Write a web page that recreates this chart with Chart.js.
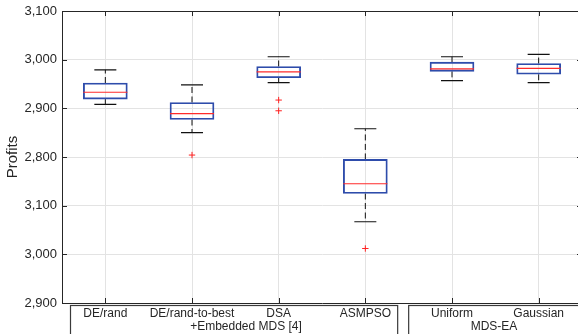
<!DOCTYPE html>
<html><head><meta charset="utf-8">
<script src="https://cdn.jsdelivr.net/npm/chart.js@4.4.1/dist/chart.umd.min.js"></script>
<style>html,body{margin:0;padding:0;overflow:hidden;background:#fff;width:578px;height:334px}canvas{display:block}</style>
</head><body>
<canvas id="c" width="582" height="334" style="width:582px;height:334px"></canvas>
<script>
const categories = ['DE/rand', 'DE/rand-to-best', 'DSA', 'ASMPSO', 'Uniform', 'Gaussian'];
const groupNames = ['+Embedded MDS [4]', 'MDS-EA'];
const whiskerLow  = [2908, 2850, 2953, 2667, 2957, 2953];
const q1          = [2919, 2877, 2963, 2725, 2976, 2970];
const medians     = [2933, 2889, 2975, 2745, 2981, 2982];
const q3          = [2952, 2912, 2986, 2795, 2995, 2992];
const whiskerHigh = [2979, 2948, 3006, 2858, 3006, 3011];
const outliers    = [[], [2804], [2917, 2895], [2612], [], []];
const yTickValues = [2500, 2600, 2700, 2800, 2900, 3000, 3100];
const yTickLabels = ['2,900', '3,000', '3,100', '2,800', '2,900', '3,000', '3,100'];

const FONT = "'Liberation Sans', Arial, Helvetica, sans-serif";
const AX = '#262626';

const whiskerData = [];
categories.forEach((c, i) => {
  whiskerData.push({x: c, y: q3[i]}, {x: c, y: whiskerHigh[i]}, {x: c, y: null},
                   {x: c, y: q1[i]}, {x: c, y: whiskerLow[i]}, {x: c, y: null});
});
const capData = [];
categories.forEach((c, i) => { capData.push({x: c, y: whiskerLow[i]}, {x: c, y: whiskerHigh[i]}); });
const medianData = categories.map((c, i) => ({x: c, y: medians[i]}));
const outlierData = [];
categories.forEach((c, i) => outliers[i].forEach(v => outlierData.push({x: c, y: v})));

const decor = {
  id: 'decor',
  afterDraw(chart) {
    const {ctx, chartArea: a, scales: {x, y}} = chart;
    ctx.save();
    ctx.strokeStyle = AX; ctx.lineWidth = 1;
    ctx.beginPath();
    ctx.moveTo(a.left, a.top + 0.5); ctx.lineTo(a.right, a.top + 0.5);
    yTickValues.forEach(v => {
      const py = Math.round(y.getPixelForValue(v)) + 0.5;
      ctx.moveTo(a.left, py); ctx.lineTo(a.left + 5, py);
      ctx.moveTo(a.right, py); ctx.lineTo(a.right - 5, py);
    });
    categories.forEach((c, i) => {
      const px = Math.round(x.getPixelForValue(i)) + 0.5;
      ctx.moveTo(px, a.top); ctx.lineTo(px, a.top + 5);
      ctx.moveTo(px, a.bottom); ctx.lineTo(px, a.bottom - 5);
    });
    ctx.stroke();
    // group boxes
    const boundary = (x.getPixelForValue(3) + x.getPixelForValue(4)) / 2;
    const top = a.bottom + 2.5;
    ctx.strokeStyle = '#3a3a3a'; ctx.lineWidth = 1.2;
    ctx.strokeRect(a.left + 8.5, top, boundary - 11 - (a.left + 8.5), 60);
    ctx.strokeRect(boundary, top, a.right + 20 - boundary, 60);
    ctx.fillStyle = AX;
    ctx.font = '12px ' + FONT;
    ctx.textAlign = 'center'; ctx.textBaseline = 'middle';
    ctx.fillText(groupNames[0], 246, 327);
    ctx.fillText(groupNames[1], 494, 327);
    ctx.restore();
  }
};

new Chart(document.getElementById('c'), {
  type: 'bar',
  data: {
    labels: categories,
    datasets: [
      {
        type: 'line', label: 'median', data: medianData, showLine: false,
        pointStyle: 'line', pointRadius: 22, pointBorderColor: '#ff2b2b', pointBorderWidth: 1.2, order: 0
      },
      {
        type: 'bar', label: 'box', data: categories.map((c, i) => [q1[i], q3[i]]),
        backgroundColor: 'rgba(0,0,0,0)', borderColor: '#2e4cab', borderWidth: 1.2,
        borderSkipped: false, barThickness: 44, order: 1
      },
      {
        type: 'line', label: 'caps', data: capData, showLine: false,
        pointStyle: 'line', pointRadius: 11, pointBorderColor: '#111', pointBorderWidth: 1.2, order: 2
      },
      {
        type: 'line', label: 'whiskers', data: whiskerData, spanGaps: false,
        borderColor: '#111', borderWidth: 1, borderDash: [6, 3.5], pointRadius: 0, order: 3
      },
      {
        type: 'line', label: 'outliers', data: outlierData, showLine: false,
        pointStyle: 'cross', pointRadius: 3.2, pointBorderColor: '#ff2020', pointBorderWidth: 1, order: 0
      }
    ]
  },
  options: {
    responsive: false, animation: false, devicePixelRatio: 1, events: [],
    layout: {autoPadding: false, padding: {top: 11, right: 0, left: 0, bottom: 0}},
    plugins: {legend: {display: false}, tooltip: {enabled: false}},
    scales: {
      x: {
        type: 'category', offset: true,
        grid: {offset: false, color: '#e3e3e3', drawTicks: false},
        border: {display: true, color: AX, width: 1},
        ticks: {font: {family: FONT, size: 12}, color: AX, padding: 3, maxRotation: 0, autoSkip: false},
        afterFit: s => { s.height = 31; s.paddingLeft = 0; s.paddingRight = 0; }
      },
      y: {
        type: 'linear', min: 2500, max: 3100,
        grid: {color: '#e3e3e3', drawTicks: false},
        border: {display: true, color: AX, width: 1},
        ticks: {stepSize: 100, font: {family: FONT, size: 13}, color: AX, padding: 5,
          callback: v => yTickLabels[yTickValues.indexOf(v)]},
        title: {display: true, text: 'Profits', font: {family: FONT, size: 15}, color: AX, padding: {top: 4, bottom: 0}},
        afterFit: s => { s.width = 62; s.paddingTop = 0; s.paddingBottom = 0; }
      }
    }
  },
  plugins: [decor]
});
</script>
</body></html>
